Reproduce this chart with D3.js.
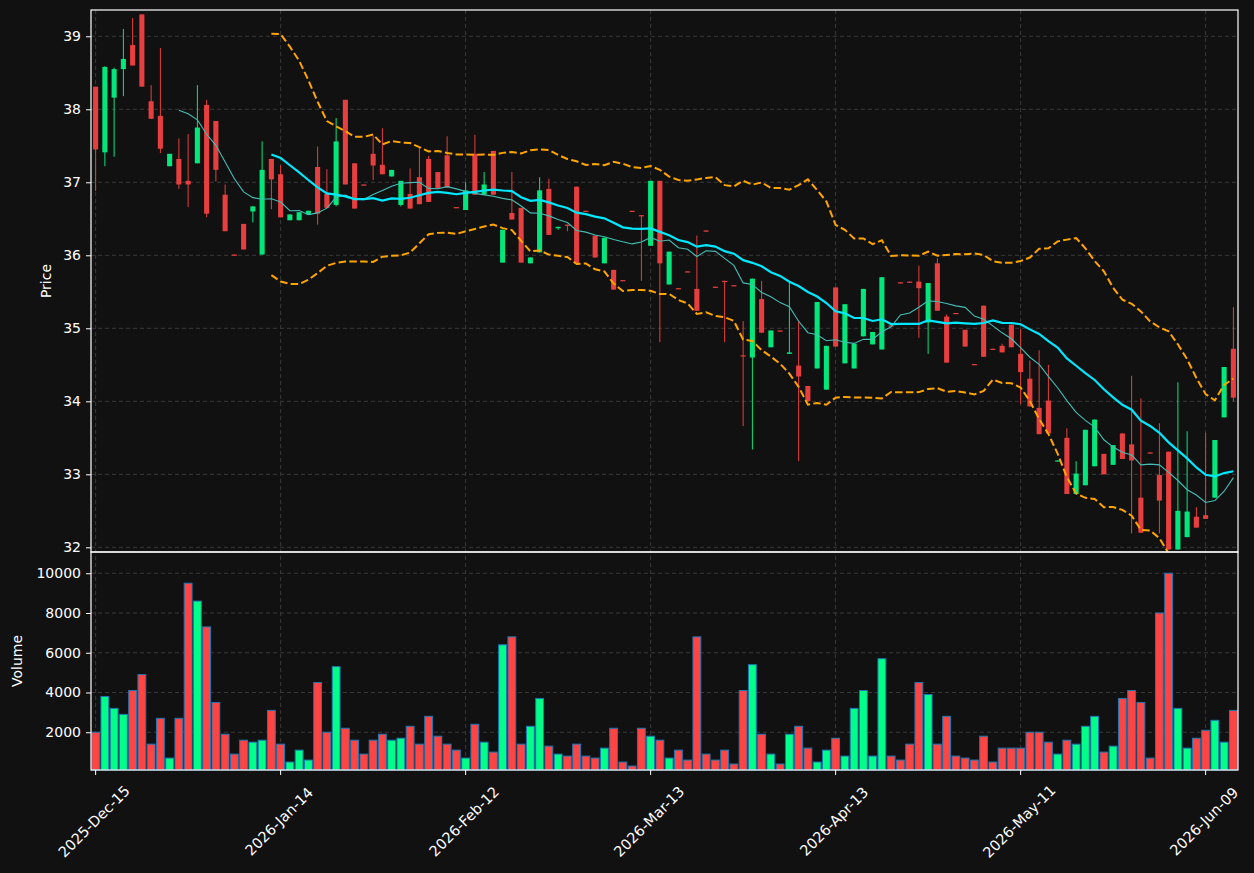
<!DOCTYPE html>
<meta charset="utf-8">
<script src="https://d3js.org/d3.v7.min.js"></script>
<style>
  body { margin: 0; background: #111111; }
  text { font-family: "DejaVu Sans", sans-serif; }
</style>
<div id="chart"></div>
<script>
// tick positions (bar index) and their date labels
var tickIdx = [0, 20, 40, 60, 80, 100, 120];
var tickLabels = ["2025-Dec-15", "2026-Jan-14", "2026-Feb-12", "2026-Mar-13", "2026-Apr-13", "2026-May-11", "2026-Jun-09"];

// daily OHLC + volume
var opens = [38.31,37.41,38.16,38.55,38.88,39.30,38.11,37.91,37.22,37.32,
  37.02,37.26,38.06,37.84,36.83,36.01,36.43,36.60,36.01,37.32,
  37.11,36.48,36.48,36.56,37.21,36.84,36.69,38.13,37.26,36.97,
  37.39,37.24,37.08,36.69,36.84,37.07,37.32,37.14,37.37,36.66,
  36.62,37.39,36.83,37.43,35.90,36.58,36.65,35.89,36.04,36.91,
  36.37,36.42,36.94,36.61,36.27,35.89,35.80,35.66,36.61,36.55,
  36.13,37.02,35.60,35.55,35.78,35.54,36.34,35.57,35.65,35.59,
  34.63,34.60,35.40,34.74,34.97,34.65,34.49,34.21,34.45,34.16,
  35.56,34.52,34.45,34.89,34.78,34.71,35.04,35.63,35.64,35.64,
  35.08,35.89,35.16,35.21,34.98,34.51,35.31,34.72,34.76,35.05,
  34.65,34.31,33.91,34.01,33.18,33.50,32.73,32.85,33.11,33.28,
  33.13,33.56,33.41,32.68,33.30,32.99,33.31,31.97,32.14,32.42,
  32.44,32.68,33.78,34.72];
var highs = [38.31,38.59,38.57,39.10,39.25,39.30,38.33,38.84,37.39,37.60,
  37.66,38.33,38.13,37.84,36.97,36.01,36.43,36.67,37.56,37.32,
  37.23,36.56,36.59,36.61,37.49,37.18,37.88,38.13,37.26,36.97,
  37.64,37.74,37.17,37.02,37.19,37.47,37.36,37.14,37.63,36.66,
  37.00,37.65,37.14,37.43,36.35,37.14,36.65,35.97,37.07,37.05,
  36.39,36.42,36.94,36.61,36.27,36.24,35.80,35.66,36.61,36.55,
  37.02,37.02,36.05,35.55,35.78,36.27,36.34,35.57,35.65,35.59,
  35.10,35.68,35.65,34.97,34.97,35.63,35.10,34.21,35.36,34.76,
  35.56,35.33,34.79,35.54,34.95,35.70,35.04,35.63,35.64,35.86,
  35.62,35.96,35.19,35.21,34.98,34.51,35.31,34.72,34.79,35.05,
  34.99,34.56,34.70,34.50,33.19,33.63,33.18,33.61,33.75,33.28,
  33.40,33.56,34.35,34.04,33.30,33.70,33.31,34.26,33.59,32.55,
  33.57,33.47,34.47,35.29];
var lows = [36.88,37.22,37.35,38.18,38.60,38.31,37.87,37.40,37.22,36.91,
  36.66,37.26,36.52,37.01,36.33,36.00,36.08,36.45,36.01,36.63,
  36.52,36.48,36.48,36.56,36.42,36.65,36.67,36.97,36.64,36.96,
  37.03,37.11,37.08,36.67,36.64,36.70,36.73,36.92,36.93,36.65,
  36.62,36.83,36.83,36.83,35.90,36.49,35.90,35.89,36.04,36.28,
  36.35,36.33,35.89,36.60,35.97,35.89,35.53,35.65,36.60,35.65,
  36.13,34.81,35.60,35.54,35.77,35.24,36.33,35.56,34.81,35.58,
  33.66,33.34,34.94,34.74,34.96,34.65,33.18,34.00,34.45,34.16,
  34.75,34.52,34.45,34.89,34.78,34.71,35.03,35.62,35.63,34.87,
  34.65,35.24,34.53,35.20,34.75,34.50,34.61,34.71,34.67,34.74,
  33.96,33.93,33.55,33.56,33.18,32.73,32.73,32.85,33.11,33.00,
  33.13,33.21,32.19,32.20,33.29,32.19,31.97,31.97,32.14,32.27,
  32.39,32.68,33.78,34.00];
var closes = [37.45,38.58,38.55,38.69,38.60,38.31,37.87,37.46,37.39,36.97,
  36.97,37.75,36.57,37.17,36.33,36.00,36.08,36.67,37.17,37.04,
  36.52,36.56,36.59,36.61,36.57,36.65,37.56,36.97,36.64,36.96,
  37.23,37.11,37.17,37.02,36.64,36.70,36.73,36.92,36.93,36.65,
  36.89,36.83,36.97,36.83,36.35,36.49,35.90,35.97,36.89,36.28,
  36.39,36.41,35.89,36.60,35.97,36.24,35.53,35.65,36.60,36.54,
  37.02,35.89,36.05,35.54,35.77,35.24,36.33,35.56,35.64,35.58,
  34.62,35.68,34.94,34.97,34.96,34.67,34.34,34.00,35.36,34.76,
  34.75,35.33,34.79,35.54,34.95,35.70,35.03,35.62,35.63,35.55,
  35.62,35.24,34.53,35.20,34.75,34.50,34.61,34.71,34.67,34.74,
  34.40,33.93,33.55,33.56,33.19,32.73,33.01,33.61,33.75,33.00,
  33.40,33.21,33.19,32.20,33.29,32.64,31.97,32.50,32.49,32.27,
  32.39,33.47,34.47,34.05];
var volumes = [2000,3800,3200,2900,4100,4900,1400,2700,700,2700,
  9500,8600,7300,3500,1900,900,1600,1500,1600,3100,
  1400,500,1100,600,4500,2000,5300,2200,1600,900,
  1600,1900,1600,1700,2300,1400,2800,1800,1400,1100,
  700,2400,1500,1000,6400,6800,1400,2300,3700,1300,
  900,800,1400,800,700,1200,2200,500,300,2200,
  1800,1600,700,1100,600,6800,900,600,1100,400,
  4100,5400,1900,900,400,1900,2300,1200,500,1100,
  1700,800,3200,4100,800,5700,800,600,1400,4500,
  3900,1400,2800,800,700,600,1800,500,1200,1200,
  1200,2000,2000,1500,900,1600,1400,2300,2800,1000,
  1300,3700,4100,3500,700,8000,10000,3200,1200,1700,
  2100,2600,1500,3100];

var priceTicks = [32, 33, 34, 35, 36, 37, 38, 39];
var volTicks = [2000, 4000, 6000, 8000, 10000];

var n = closes.length;

// moving averages and bollinger bands from the closes
function rollMean(arr, w) {
  return arr.map(function(d, i) {
    if (i < w - 1) return null;
    return d3.mean(arr.slice(i - w + 1, i + 1));
  });
}
function rollStd(arr, w) {
  return arr.map(function(d, i) {
    if (i < w - 1) return null;
    var s = arr.slice(i - w + 1, i + 1), m = d3.mean(s);
    return Math.sqrt(d3.mean(s, function(v) { return (v - m) * (v - m); }));
  });
}
var ma10 = rollMean(closes, 10);
var ma20 = rollMean(closes, 20);
var sd20 = rollStd(closes, 20);
var upper = ma20.map(function(m, i) { return m == null ? null : m + 2 * sd20[i]; });
var lower = ma20.map(function(m, i) { return m == null ? null : m - 2 * sd20[i]; });

var W = 1254, H = 873;
var left = 91, right = 1238, pTop = 10, pBot = 552, vBot = 770;

var svg = d3.select("#chart").append("svg")
  .attr("width", W).attr("height", H)
  .style("background", "#111111");

var x = d3.scaleLinear().domain([-0.5, n - 0.5]).range([left, right]);
var yP = d3.scaleLinear().domain([31.936, 39.36]).range([pBot, pTop]);
var yV = d3.scaleLinear().domain([100, 11070]).range([vBot, pBot]);
var step = x(1) - x(0);

svg.append("clipPath").attr("id", "clipP")
  .append("rect").attr("x", left).attr("y", pTop).attr("width", right - left).attr("height", pBot - pTop);

// grid
var grid = svg.append("g").attr("stroke", "#3a3a3a").attr("stroke-width", 1).attr("stroke-dasharray", "4,3");
priceTicks.forEach(function(t) {
  grid.append("line").attr("x1", left).attr("x2", right).attr("y1", yP(t)).attr("y2", yP(t));
});
volTicks.forEach(function(t) {
  grid.append("line").attr("x1", left).attr("x2", right).attr("y1", yV(t)).attr("y2", yV(t));
});
tickIdx.forEach(function(t) {
  grid.append("line").attr("x1", x(t)).attr("x2", x(t)).attr("y1", pTop).attr("y2", vBot);
});

var upC = "rgb(2,231,124)", downC = "rgb(231,63,63)";

// candles
var candles = svg.append("g").attr("clip-path", "url(#clipP)");
var bw = step * 0.55;
closes.forEach(function(c, i) {
  var o = opens[i], col = c >= o ? upC : downC;
  candles.append("line")
    .attr("x1", x(i)).attr("x2", x(i))
    .attr("y1", yP(highs[i])).attr("y2", yP(lows[i]))
    .attr("stroke", col).attr("stroke-width", 1);
  var top = yP(Math.max(o, c)), bot = yP(Math.min(o, c));
  candles.append("rect")
    .attr("x", x(i) - bw / 2).attr("width", bw)
    .attr("y", top).attr("height", Math.max(1.2, bot - top))
    .attr("fill", col);
});

// indicator lines
var lines = svg.append("g").attr("clip-path", "url(#clipP)").attr("fill", "none");
function linePath(arr) {
  return d3.line()
    .defined(function(d) { return d != null; })
    .x(function(d, i) { return x(i); })
    .y(function(d) { return yP(d); })(arr);
}
lines.append("path").attr("d", linePath(upper)).attr("stroke", "#ffa500").attr("stroke-width", 2).attr("stroke-dasharray", "7.5,3.3");
lines.append("path").attr("d", linePath(lower)).attr("stroke", "#ffa500").attr("stroke-width", 2).attr("stroke-dasharray", "7.5,3.3");
lines.append("path").attr("d", linePath(ma10)).attr("stroke", "#45bdb5").attr("stroke-width", 1.1);
lines.append("path").attr("d", linePath(ma20)).attr("stroke", "#00e8ff").attr("stroke-width", 2.2);

// volume bars
var vb = step * 0.85;
svg.append("g").selectAll("rect").data(volumes).enter().append("rect")
  .attr("x", function(d, i) { return x(i) - vb / 2; })
  .attr("width", vb)
  .attr("y", function(d) { return yV(d); })
  .attr("height", function(d) { return vBot - yV(d); })
  .attr("fill", function(d, i) { return closes[i] >= opens[i] ? "#00ff88" : "#ff4444"; })
  .attr("stroke", "#1f77b4").attr("stroke-width", 1);

// frames
svg.append("rect").attr("x", left).attr("y", pTop).attr("width", right - left).attr("height", pBot - pTop)
  .attr("fill", "none").attr("stroke", "#ffffff").attr("stroke-width", 1.2);
svg.append("rect").attr("x", left).attr("y", pBot).attr("width", right - left).attr("height", vBot - pBot)
  .attr("fill", "none").attr("stroke", "#ffffff").attr("stroke-width", 1.2);

// axes
function styleAxis(g) {
  g.select(".domain").remove();
  g.selectAll(".tick line").attr("stroke", "#ffffff");
  g.selectAll(".tick text").attr("fill", "#ffffff").style("font-size", "14px").style("font-family", "DejaVu Sans");
}
svg.append("g").attr("transform", "translate(" + left + ",0)")
  .call(d3.axisLeft(yP).tickValues(priceTicks).tickSize(5).tickPadding(5).tickFormat(d3.format("d")))
  .call(styleAxis);
svg.append("g").attr("transform", "translate(" + left + ",0)")
  .call(d3.axisLeft(yV).tickValues(volTicks).tickSize(5).tickPadding(5).tickFormat(d3.format("d")))
  .call(styleAxis);

var xa = svg.append("g");
tickIdx.forEach(function(t, k) {
  xa.append("line").attr("x1", x(t)).attr("x2", x(t)).attr("y1", vBot).attr("y2", vBot + 5)
    .attr("stroke", "#ffffff");
  xa.append("text")
    .attr("transform", "translate(" + (x(t) - 1.5) + ",821.5) rotate(-45)")
    .attr("text-anchor", "middle").attr("dominant-baseline", "central")
    .attr("fill", "#ffffff").style("font-size", "14.5px")
    .text(tickLabels[k]);
});

svg.append("text").attr("transform", "translate(46," + (pTop + pBot) / 2 + ") rotate(-90)")
  .attr("text-anchor", "middle").attr("dominant-baseline", "central")
  .attr("fill", "#ffffff").style("font-size", "14px").text("Price");
svg.append("text").attr("transform", "translate(17," + (pBot + vBot) / 2 + ") rotate(-90)")
  .attr("text-anchor", "middle").attr("dominant-baseline", "central")
  .attr("fill", "#ffffff").style("font-size", "14px").text("Volume");
</script>
